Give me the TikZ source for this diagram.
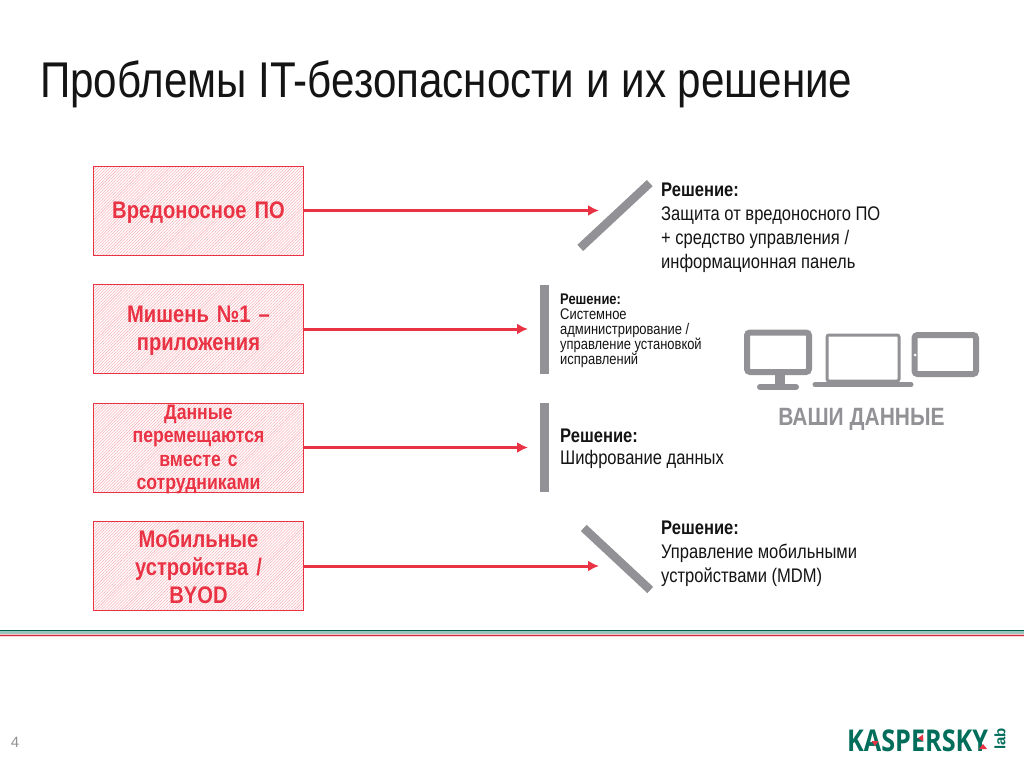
\documentclass[tikz,border=0pt]{standalone}
\usepackage{fontspec}
\setmainfont{Liberation Sans}[FakeStretch=0.84]
\newfontfamily\plainsans{Liberation Sans}
\newfontfamily\logofont{Open Sans}[FakeStretch=0.84]
\usetikzlibrary{patterns.meta,arrows.meta}
\definecolor{kred}{RGB}{233,50,67}
\definecolor{kgrey}{RGB}{146,146,150}
\definecolor{kgreen}{RGB}{0,110,90}
\definecolor{ktext}{RGB}{20,20,20}
\tikzset{
  probbox/.style={draw=kred,line width=1pt,minimum width=210pt,minimum height=89pt,inner sep=0pt,
    pattern={Lines[angle=45,distance=2.1pt,line width=0.55pt]},pattern color=kred!38},
  problabel/.style={inner sep=0pt,text=kred,font=\bfseries\fontsize{24}{28}\selectfont,align=center,text width=190pt},
  probsmall/.style={problabel,font=\bfseries\fontsize{21}{23.2}\selectfont},
  flow/.style={draw=kred,line width=3pt,-{Latex[length=11pt,width=11pt]}},
  sbar/.style={fill=kgrey,inner sep=0pt,minimum width=8.5pt},
  sol/.style={anchor=north west,align=left,inner sep=0pt,text=ktext,font=\fontsize{19.7}{24}\selectfont},
  solsmall/.style={anchor=north west,align=left,inner sep=0pt,text=ktext,font=\fontsize{15.4}{15}\selectfont}
}
\begin{document}
\begin{tikzpicture}[x=1pt,y=-1pt]
\useasboundingbox (0,0) rectangle (1024,768);
\fill[white] (0,0) rectangle (1024,768);
% title
\node[anchor=west,inner sep=0pt,text=ktext,font=\fontsize{50.2}{51}\selectfont] (title) at (40,84) {Проблемы IT-безопасности и их решение};
% problem boxes
\node[probbox] (b1) at (198.5,210.5) {};
\node[probbox] (b2) at (198.5,329) {};
\node[probbox] (b3) at (198.5,447.5) {};
\node[probbox] (b4) at (198.5,566) {};
\node[problabel] (l1) at (198.5,212.5) {Вредоносное ПО};
\node[problabel] (l2) at (198.5,331) {Мишень №1 –\\приложения};
\node[probsmall] (l3) at (198.5,449.5) {Данные\\перемещаются\\вместе с\\сотрудниками};
\node[problabel] (l4) at (198.5,567) {Мобильные\\устройства /\\BYOD};
% solution bars
\node[sbar,minimum height=95pt,rotate=-47] (s1) at (615,215.5) {};
\node[sbar,minimum height=89pt] (s2) at (544.5,329) {};
\node[sbar,minimum height=89pt] (s3) at (544.5,447.5) {};
\node[sbar,minimum height=91pt,rotate=47] (s4) at (617,559) {};
% connectors
\coordinate (t1) at (599,210.5);
\coordinate (t2) at (528,329);
\coordinate (t3) at (528,447.5);
\coordinate (t4) at (599,566);
\draw[flow] (b1.east) -- (t1);
\draw[flow] (b2.east) -- (t2);
\draw[flow] (b3.east) -- (t3);
\draw[flow] (b4.east) -- (t4);
% solutions
\node[sol] (r1) at (661,183) {\textbf{Решение:}\\Защита от вредоносного ПО\\+ средство управления /\\информационная панель};
\node[solsmall] (r2) at (560,294) {\textbf{Решение:}\\Системное\\администрирование /\\управление установкой\\исправлений};
\node[sol,font=\fontsize{19.7}{21.5}\selectfont] (r3) at (560,429) {\textbf{Решение:}\\Шифрование данных};
\node[sol] (r4) at (661,521) {\textbf{Решение:}\\Управление мобильными\\устройствами (MDM)};
% devices: monitor
\draw[kgrey,line width=6pt,rounded corners=3pt,fill=white] (747,332.5) rectangle (809,372);
\fill[kgrey] (775,372) rectangle (785,386);
\draw[kgrey,line width=6pt,line cap=round] (760,387) -- (796,387);
% laptop
\draw[kgrey,line width=3pt,rounded corners=2pt,fill=white] (827,335) rectangle (899,381);
\draw[kgrey,line width=5pt,line cap=round] (815,384.5) -- (911,384.5);
% tablet
\draw[kgrey,line width=6pt,rounded corners=3pt,fill=white] (914.5,335) rectangle (976,374);
\fill[white] (915,355) circle (1.5pt);
\node[inner sep=0pt,text=kgrey,font=\bfseries\fontsize{25}{26}\selectfont] (data) at (861.5,419) {ВАШИ ДАННЫЕ};
% footer stripes
\fill[kgreen!90!black] (0,630) rectangle (1024,631);
\fill[kgreen!40] (0,631) rectangle (1024,633.5);
\fill[kred!30] (0,633.5) rectangle (1024,634.5);
\fill[kred!85!black] (0,634.5) rectangle (1024,636);
\fill[kred!20] (0,636) rectangle (1024,637);
\node[inner sep=0pt,text=kgrey,font=\plainsans\fontsize{15}{16}\selectfont] (page) at (15,742) {4};
% logo
\node[anchor=west,inner sep=0pt,text=kgreen,font=\logofont\bfseries\fontsize{30}{31}\selectfont] (logo) at (847,741) {KASPERSKY};
\node[rotate=90,inner sep=0pt,text=kgreen,font=\plainsans\bfseries\fontsize{15}{16}\selectfont] (lab) at (1000,739) {lab};
\fill[kred] (875,746) -- (871.5,741) -- (878.5,741) -- cycle;
\fill[kred] (918,738) -- (923,734.5) -- (923,741.5) -- cycle;
\fill[kred] (983,744) -- (979,749) -- (987,749) -- cycle;
\end{tikzpicture}
\end{document}
